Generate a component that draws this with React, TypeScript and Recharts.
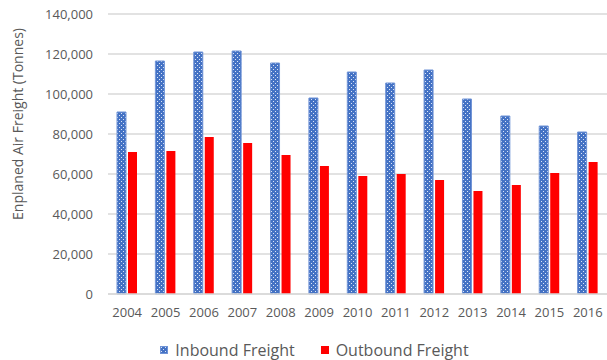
import { Bar, BarChart, CartesianGrid, Legend, XAxis, YAxis } from 'recharts'

const years = ['2004', '2005', '2006', '2007', '2008', '2009', '2010', '2011', '2012', '2013', '2014', '2015', '2016']
const inbound = [91000, 116500, 121000, 121500, 115500, 98000, 111000, 105500, 112000, 97500, 89000, 84000, 81000]
const outbound = [71000, 71500, 78500, 75500, 69500, 64000, 59000, 60000, 57000, 51500, 54500, 60500, 66000]
const yTicks = [0, 20000, 40000, 60000, 80000, 100000, 120000, 140000]

const FONT = '"Open Sans", sans-serif'
const TEXT = '#595959'
const GRID = '#D9D9D9'
const BLUE = '#4472C4'
const RED = '#FF0000'

const data = years.map((year, i) => ({ year, inbound: inbound[i], outbound: outbound[i] }))

function LegendContent() {
  const items = [
    { label: 'Inbound Freight', fill: 'url(#inboundDots)', stroke: '#6F93D6' },
    { label: 'Outbound Freight', fill: RED, stroke: RED }
  ]
  return (
    <div
      style={{
        display: 'flex',
        justifyContent: 'center',
        gap: 26,
        height: 20,
        lineHeight: '20px',
        paddingLeft: 22,
        fontFamily: FONT,
        fontSize: 16,
        color: TEXT
      }}
    >
      {items.map((item) => (
        <span key={item.label} style={{ display: 'flex', alignItems: 'center' }}>
          <svg width={8} height={8} style={{ marginRight: 7 }}>
            <rect x={0.5} y={0.5} width={7} height={7} fill={item.fill} stroke={item.stroke} />
          </svg>
          {item.label}
        </span>
      ))}
    </div>
  )
}

function AxisTitle({ viewBox }: { viewBox?: { x: number; y: number; width: number; height: number } }) {
  if (!viewBox) return null
  const x = viewBox.x + 17
  const y = viewBox.y + viewBox.height / 2 - 30
  return (
    <text
      x={x}
      y={y}
      transform={`rotate(-90, ${x}, ${y})`}
      textAnchor="middle"
      dominantBaseline="central"
      fill={TEXT}
      fontFamily={FONT}
      fontSize={14}
    >
      Enplaned Air Freight (Tonnes)
    </text>
  )
}

export default function App() {
  return (
    <div style={{ position: 'absolute', left: 0, top: 0, width: 607, height: 360, background: '#fff' }}>
      <BarChart
        width={607}
        height={360}
        data={data}
        margin={{ top: 14, right: 0, bottom: 16, left: 0 }}
        barSize={9}
        barGap={2}
      >
        <defs>
          {/* blue fill with a light dotted grid */}
          <pattern id="inboundDots" width={4} height={4} patternUnits="userSpaceOnUse">
            <rect width={4} height={4} fill={BLUE} />
            <rect x={1} y={1} width={1} height={1} fill="#DCE5F6" />
            <rect x={3} y={3} width={1} height={1} fill="#DCE5F6" />
          </pattern>
        </defs>
        <CartesianGrid vertical={false} stroke={GRID} strokeWidth={1.3} />
        <XAxis
          dataKey="year"
          height={30}
          tickLine={false}
          tickSize={0}
          tickMargin={14}
          axisLine={{ stroke: GRID, strokeWidth: 1.3 }}
          tick={{ fill: TEXT, fontFamily: FONT, fontSize: 13 }}
        />
        <YAxis
          width={108}
          domain={[0, 140000]}
          ticks={yTicks}
          tickLine={false}
          tickSize={0}
          tickMargin={15}
          axisLine={false}
          tick={{ fill: TEXT, fontFamily: FONT, fontSize: 13 }}
          tickFormatter={(v: number) => v.toLocaleString('en-US')}
          label={<AxisTitle />}
        />
        <Legend
          verticalAlign="bottom"
          content={<LegendContent />}
          wrapperStyle={{ left: 0, width: 607, bottom: 0, height: 20 }}
        />
        <Bar
          dataKey="inbound"
          name="Inbound Freight"
          fill="url(#inboundDots)"
          stroke="#6F93D6"
          strokeWidth={1}
          isAnimationActive={false}
        />
        <Bar dataKey="outbound" name="Outbound Freight" fill={RED} isAnimationActive={false} />
      </BarChart>
    </div>
  )
}
